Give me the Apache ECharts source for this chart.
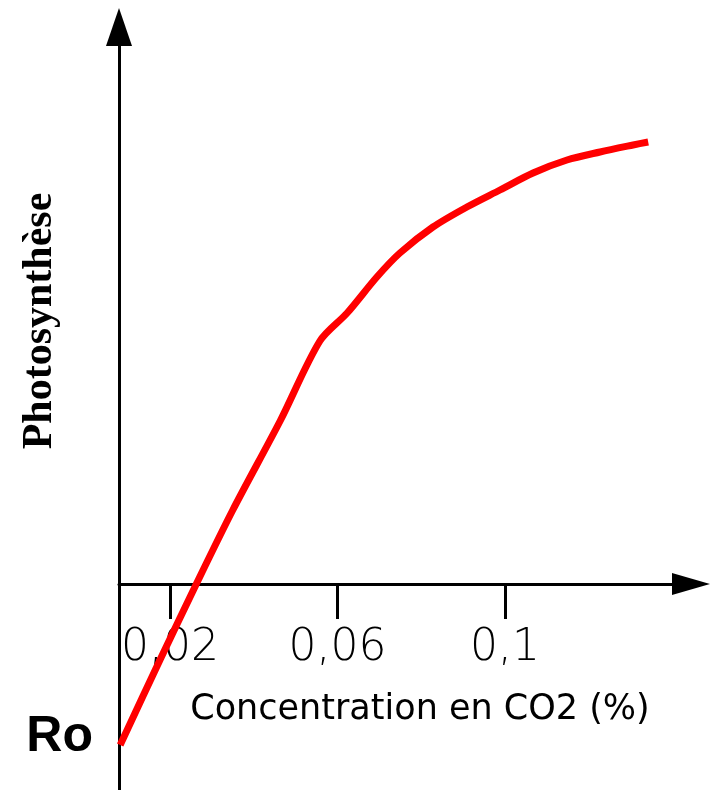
<!DOCTYPE html>
<html>
<head>
<meta charset="utf-8">
<title>Photosynthèse</title>
<script src="https://cdn.jsdelivr.net/npm/echarts@6/dist/echarts.min.js"></script>
<style>
  html, body {
    margin: 0;
    padding: 0;
    background: #ffffff;
  }

  #chart {
    width: 710px;
    height: 790px;
  }
</style>
</head>
<body>
<div id="chart"></div>
<script>
  // concentration en CO2 (%)
  const co2 = [0.0081, 0.0176, 0.0264, 0.0350, 0.0463, 0.0558, 0.0623, 0.0694, 0.0749, 0.0828,
    0.0909, 0.0988, 0.1067, 0.1148, 0.1227, 0.1306, 0.1342]
  // photosynthèse (unités arbitraires)
  const photo = [-1.61, -0.76, 0.01, 0.74, 1.63, 2.43, 2.71, 3.07, 3.31, 3.57,
    3.77, 3.94, 4.11, 4.24, 4.32, 4.39, 4.42]
  const xTicks = [0.02, 0.06, 0.1]
  const roLabel = -1.53

  const chart = echarts.init(document.getElementById('chart'))

  const option = {
    animation: false,
    grid: {
      left: 119,
      right: 19,
      top: 27,
      bottom: 0,
      outerBoundsMode: 'none'
    },
    xAxis: {
      type: 'value',
      min: 0.00782,
      max: 0.14442,
      // l'axe est remonté jusqu'à y = 0
      offset: -206,
      name: 'Concentration en CO2 (%)',
      nameLocation: 'middle',
      nameGap: 108,
      nameTextStyle: {
        fontFamily: 'DejaVu Sans',
        fontSize: 35,
        color: '#000000',
        padding: [0, 0, 0, 30]
      },
      axisLine: {
        onZero: false,
        symbol: ['none', 'triangle'],
        symbolSize: [22, 38],
        lineStyle: {
          color: '#000000',
          width: 3
        }
      },
      axisTick: {
        customValues: xTicks,
        length: 35,
        lineStyle: {
          color: '#000000',
          width: 3
        }
      },
      axisLabel: {
        customValues: xTicks,
        margin: 43,
        fontFamily: 'DejaVu Sans',
        fontWeight: 300,
        fontSize: 44,
        color: '#000000',
        formatter: (v) => String(v).replace('.', ',')
      },
      splitLine: {
        show: false
      }
    },
    yAxis: {
      type: 'value',
      min: -2.06,
      max: 5.57,
      axisLine: {
        show: true,
        symbol: ['none', 'triangle'],
        symbolSize: [26, 38],
        lineStyle: {
          color: '#000000',
          width: 3
        }
      },
      axisTick: {
        show: false
      },
      axisLabel: {
        customValues: [roLabel],
        margin: 26,
        fontFamily: 'Liberation Sans',
        fontWeight: 'bold',
        fontSize: 50,
        color: '#000000',
        formatter: () => 'Ro'
      },
      splitLine: {
        show: false
      }
    },
    graphic: [
      {
        type: 'text',
        x: 40,
        y: 321,
        rotation: Math.PI / 2,
        style: {
          text: 'Photosynthèse',
          fontFamily: 'Liberation Serif',
          fontWeight: 'bold',
          fontSize: 42,
          fill: '#000000',
          align: 'center',
          verticalAlign: 'middle'
        }
      }
    ],
    series: [
      {
        type: 'line',
        data: co2.map((c, i) => [c, photo[i]]),
        smooth: 0.3,
        symbol: 'none',
        lineStyle: {
          color: '#ff0000',
          width: 7
        }
      }
    ]
  }

  chart.setOption(option)
</script>
</body>
</html>
